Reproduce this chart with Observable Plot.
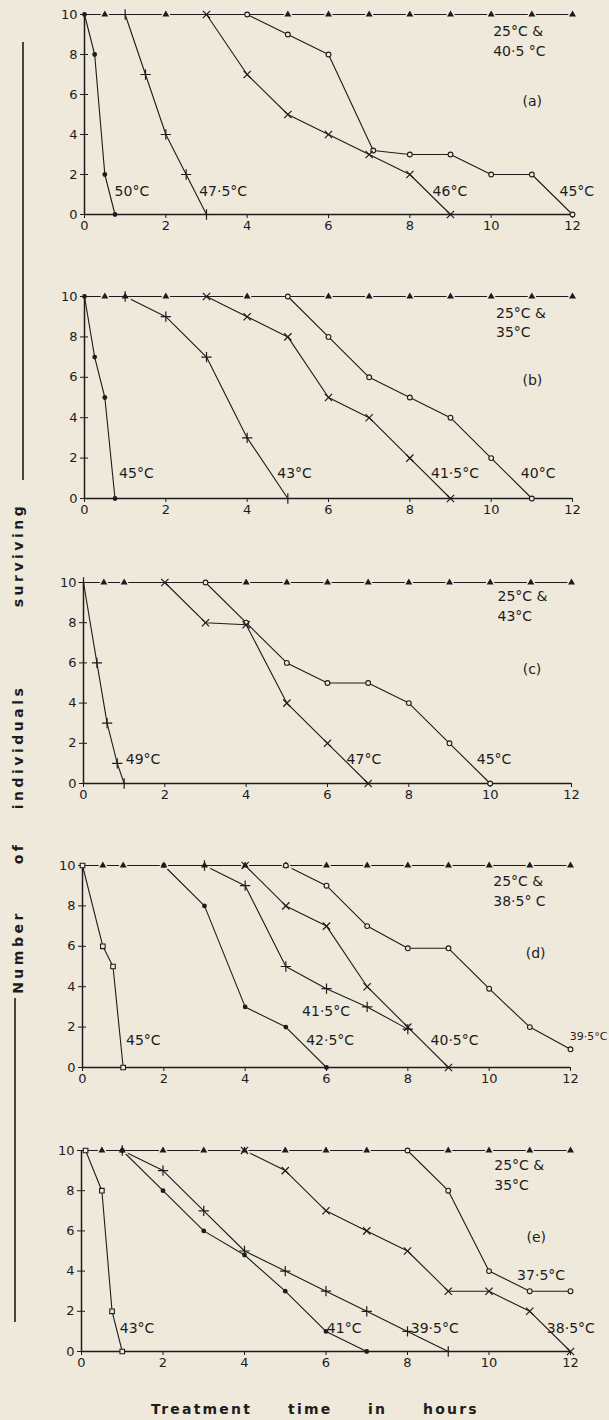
<!DOCTYPE html>
<html>
<head>
<meta charset="utf-8">
<script src="https://cdn.jsdelivr.net/npm/d3@7"></script>
<script src="https://cdn.jsdelivr.net/npm/@observablehq/plot@0.6"></script>
<style>
  html, body { margin: 0; padding: 0; background: #efe9dc; }
  #wrap { position: relative; width: 609px; height: 1420px; overflow: hidden; background: #efe9dc; }
  #wrap > svg, #wrap > figure { position: absolute; left: 0; margin: 0; }
</style>
</head>
<body>
<div id="wrap"></div>
<script>
// ---------- data ----------
const xTicks = [0, 2, 4, 6, 8, 10, 12];
const yTicks = [0, 2, 4, 6, 8, 10];
const panelIds = ["(a)", "(b)", "(c)", "(d)", "(e)"];
const controlTemps = ["25°C &\n40·5 °C", "25°C &\n35°C", "25°C &\n43°C", "25°C &\n38·5° C", "25°C &\n35°C"];

// control (triangle) observation times, survivors always 10
const ctrlA = [0.5, 2, 5, 6, 7, 8, 9, 10, 11, 12];
const ctrlB = [0.5, 1, 2, 4, 6, 7, 8, 9, 10, 11, 12];
const ctrlC = [0.5, 1, 4, 5, 6, 7, 8, 9, 10, 11, 12];
const ctrlD = [0.5, 1, 2, 3, 4, 5, 6, 7, 8, 9, 10, 11, 12];
const ctrlE = [0.5, 1, 2, 3, 4, 5, 6, 7, 9, 10, 11, 12];

// panel (a)
const seriesA = [
  { temp: "50°C",   marker: "filled", hours: [0, 0.25, 0.5, 0.75], surv: [10, 8, 2, 0] },
  { temp: "47·5°C", marker: "plus",   hours: [1, 1.5, 2, 2.5, 3], surv: [10, 7, 4, 2, 0] },
  { temp: "46°C",   marker: "times",  hours: [3, 4, 5, 6, 7, 8, 9], surv: [10, 7, 5, 4, 3, 2, 0] },
  { temp: "45°C",   marker: "open",   hours: [4, 5, 6, 7.1, 8, 9, 10, 11, 12], surv: [10, 9, 8, 3.2, 3, 3, 2, 2, 0] }
];
// panel (b)
const seriesB = [
  { temp: "45°C",   marker: "filled", hours: [0, 0.25, 0.5, 0.75], surv: [10, 7, 5, 0] },
  { temp: "43°C",   marker: "plus",   hours: [1, 2, 3, 4, 5], surv: [10, 9, 7, 3, 0] },
  { temp: "41·5°C", marker: "times",  hours: [3, 4, 5, 6, 7, 8, 9], surv: [10, 9, 8, 5, 4, 2, 0] },
  { temp: "40°C",   marker: "open",   hours: [5, 6, 7, 8, 9, 10, 11], surv: [10, 8, 6, 5, 4, 2, 0] }
];
// panel (c)
const seriesC = [
  { temp: "49°C", marker: "plus",  hours: [0, 0.33, 0.58, 0.83, 1], surv: [10, 6, 3, 1, 0] },
  { temp: "47°C", marker: "times", hours: [2, 3, 4, 5, 6, 7], surv: [10, 8, 7.9, 4, 2, 0] },
  { temp: "45°C", marker: "open",  hours: [3, 4, 5, 6, 7, 8, 9, 10], surv: [10, 8, 6, 5, 5, 4, 2, 0] }
];
// panel (d)
const seriesD = [
  { temp: "45°C",   marker: "square", hours: [0, 0.5, 0.75, 1], surv: [10, 6, 5, 0] },
  { temp: "42·5°C", marker: "filled", hours: [2, 3, 4, 5, 6], surv: [10, 8, 3, 2, 0] },
  { temp: "41·5°C", marker: "plus",   hours: [3, 4, 5, 6, 7, 8], surv: [10, 9, 5, 3.9, 3, 1.9] },
  { temp: "40·5°C", marker: "times",  hours: [4, 5, 6, 7, 8, 9], surv: [10, 8, 7, 4, 2, 0] },
  { temp: "39·5°C", marker: "open",   hours: [5, 6, 7, 8, 9, 10, 11, 12], surv: [10, 9, 7, 5.9, 5.9, 3.9, 2, 0.9] }
];
// panel (e)
const seriesE = [
  { temp: "43°C",   marker: "square", hours: [0.1, 0.5, 0.75, 1], surv: [10, 8, 2, 0] },
  { temp: "41°C",   marker: "filled", hours: [1, 2, 3, 4, 5, 6, 7], surv: [10, 8, 6, 4.8, 3, 1, 0] },
  { temp: "39·5°C", marker: "plus",   hours: [1, 2, 3, 4, 5, 6, 7, 8, 9], surv: [10, 9, 7, 5, 4, 3, 2, 1, 0] },
  { temp: "38·5°C", marker: "times",  hours: [4, 5, 6, 7, 8, 9, 10, 11, 12], surv: [10, 9, 7, 6, 5, 3, 3, 2, 0] },
  { temp: "37·5°C", marker: "open",   hours: [8, 9, 10, 11, 12], surv: [10, 8, 4, 3, 3] }
];

// label anchors (data units) for the temperature annotations
const labelsA = [["50°C", 0.74, 1.13], ["47·5°C", 2.82, 1.13], ["46°C", 8.56, 1.13], ["45°C", 11.68, 1.13]];
const labelsB = [["45°C", 0.85, 1.23], ["43°C", 4.74, 1.23], ["41·5°C", 8.52, 1.23], ["40°C", 10.73, 1.23]];
const labelsC = [["49°C", 1.04, 1.21], ["47°C", 6.47, 1.21], ["45°C", 9.67, 1.21]];
const labelsD = [["45°C", 1.07, 1.35], ["42·5°C", 5.5, 1.35], ["41·5°C", 5.4, 2.75], ["40·5°C", 8.56, 1.35], ["39·5°C", 12, 1.55]];
const labelsE = [["43°C", 0.94, 1.15], ["41°C", 6.02, 1.15], ["39·5°C", 8.08, 1.15], ["38·5°C", 11.42, 1.15], ["37·5°C", 10.69, 3.77]];

// ---------- layout ----------
const ink = "#1c1c1c";
const bg = "#efe9dc";
const font = "'DejaVu Sans', sans-serif";
const layout = [
  { top: 14,   h: 200, ml: 84, mr: 37, ctrl: ctrlA, series: seriesA, labels: labelsA, ctrlPos: [10.05, 8.75], idPos: [10.77, 5.67] },
  { top: 296,  h: 202, ml: 84, mr: 37, ctrl: ctrlB, series: seriesB, labels: labelsB, ctrlPos: [10.12, 8.78], idPos: [10.77, 5.84] },
  { top: 582,  h: 201, ml: 83, mr: 38, ctrl: ctrlC, series: seriesC, labels: labelsC, ctrlPos: [10.18, 8.9], idPos: [10.8, 5.69] },
  { top: 865,  h: 202, ml: 82, mr: 39, ctrl: ctrlD, series: seriesD, labels: labelsD, ctrlPos: [10.1, 8.8], idPos: [10.9, 5.63] },
  { top: 1150, h: 201, ml: 81, mr: 39, ctrl: ctrlE, series: seriesE, labels: labelsE, ctrlPos: [10.13, 8.85], idPos: [10.92, 5.68] }
];

const wrap = document.getElementById("wrap");
const MT = 14, MB = 34;

layout.forEach((p, i) => {
  const pts = p.series.flatMap(s => s.hours.map((h, k) => ({ x: h, y: s.surv[k], temp: s.temp, marker: s.marker })));
  const ctrlPts = p.ctrl.map(h => ({ x: h, y: 10 }));
  const ctrlLine = [{ x: xTicks[0], y: 10 }, ...ctrlPts];
  const lab = p.labels.map(([t, x, y]) => ({ t, x, y }));
  const labIn = lab.filter(d => d.x < 12);
  const labEdge = lab.filter(d => d.x >= 12);
  const ann = [{ t: controlTemps[i], x: p.ctrlPos[0], y: p.ctrlPos[1] }];
  const ids = [{ t: panelIds[i], x: p.idPos[0], y: p.idPos[1] }];
  const of = m => pts.filter(d => d.marker === m);

  const chart = Plot.plot({
    width: 609,
    height: p.h + MT + MB,
    marginTop: MT, marginBottom: MB, marginLeft: p.ml, marginRight: p.mr,
    x: { domain: [0, 12], ticks: xTicks },
    y: { domain: [0, 10], ticks: yTicks },
    style: { background: "transparent", fontFamily: font, fontSize: "13px", color: ink, overflow: "visible" },
    marks: [
      Plot.axisX({ ticks: xTicks, tickSize: 4, tickPadding: 2, label: null, fontSize: 13, stroke: ink }),
      Plot.axisY({ ticks: yTicks, tickSize: 4, tickPadding: 3, label: null, fontSize: 13, stroke: ink }),
      Plot.axisY({ ticks: yTicks, tickSize: 4, dx: 4, text: null, label: null, stroke: ink }),
      Plot.ruleY([0], { stroke: ink, strokeWidth: 1.5 }),
      Plot.ruleX([0], { stroke: ink, strokeWidth: 1.5 }),
      Plot.line(ctrlLine, { x: "x", y: "y", stroke: ink, strokeWidth: 1.2 }),
      Plot.line(pts, { x: "x", y: "y", z: "temp", stroke: ink, strokeWidth: 1.1 }),
      Plot.dot(ctrlPts, { x: "x", y: "y", symbol: "triangle", r: 2.6, fill: ink, stroke: bg, strokeWidth: 3, paintOrder: "stroke" }),
      Plot.dot(of("filled"), { x: "x", y: "y", r: 2.4, fill: ink }),
      Plot.dot(of("open"), { x: "x", y: "y", r: 2.4, fill: bg, stroke: ink, strokeWidth: 1.1 }),
      Plot.dot(of("square"), { x: "x", y: "y", symbol: "square", r: 2.6, fill: bg, stroke: ink, strokeWidth: 1.1 }),
      Plot.dot(of("plus"), { x: "x", y: "y", symbol: "plus", r: 3.4, stroke: ink, strokeWidth: 1.2 }),
      Plot.dot(of("times"), { x: "x", y: "y", symbol: "times", r: 3.4, stroke: ink, strokeWidth: 1.2 }),
      Plot.text(labIn, { x: "x", y: "y", text: "t", textAnchor: "start", lineAnchor: "middle", fontSize: 14, fill: ink }),
      Plot.text(labEdge, { x: "x", y: "y", text: "t", dx: 37, textAnchor: "end", lineAnchor: "middle", fontSize: 11, fill: ink }),
      Plot.text(ann, { x: "x", y: "y", text: "t", textAnchor: "start", lineAnchor: "middle", lineHeight: 1.42, fontSize: 14, fill: ink }),
      Plot.text(ids, { x: "x", y: "y", text: "t", textAnchor: "start", lineAnchor: "middle", fontSize: 14, fill: ink })
    ]
  });
  chart.style.top = (p.top - MT) + "px";
  wrap.appendChild(chart);
});

// ---------- axis titles ----------
const titleFont = { family: "'DejaVu Sans', sans-serif", size: 14, weight: 600 };
const ov = d3.select(wrap).append("svg")
  .attr("width", 609).attr("height", 1420)
  .style("position", "absolute").style("left", 0).style("top", 0)
  .style("pointer-events", "none");

const xWords = [["Treatment", 151], ["time", 288], ["in", 368], ["hours", 423]];
ov.selectAll("text.xw").data(xWords).join("text")
  .attr("x", d => d[1]).attr("y", 1410)
  .attr("dominant-baseline", "middle")
  .attr("font-family", titleFont.family).attr("font-size", titleFont.size).attr("font-weight", titleFont.weight)
  .attr("letter-spacing", 2.2).attr("fill", ink)
  .text(d => d[0]);

const yWords = [["Number", 952], ["of", 853], ["individuals", 747], ["surviving", 555]];
ov.selectAll("text.yw").data(yWords).join("text")
  .attr("transform", d => `translate(19,${d[1]}) rotate(-90)`)
  .attr("text-anchor", "middle").attr("dominant-baseline", "middle")
  .attr("font-family", titleFont.family).attr("font-size", titleFont.size).attr("font-weight", titleFont.weight)
  .attr("letter-spacing", 3.5).attr("fill", ink)
  .text(d => d[0]);

ov.append("line").attr("x1", 23).attr("x2", 23).attr("y1", 42).attr("y2", 480).attr("stroke", ink).attr("stroke-width", 1.6);
ov.append("line").attr("x1", 15).attr("x2", 15).attr("y1", 998).attr("y2", 1322).attr("stroke", ink).attr("stroke-width", 1.6);
</script>
</body>
</html>
